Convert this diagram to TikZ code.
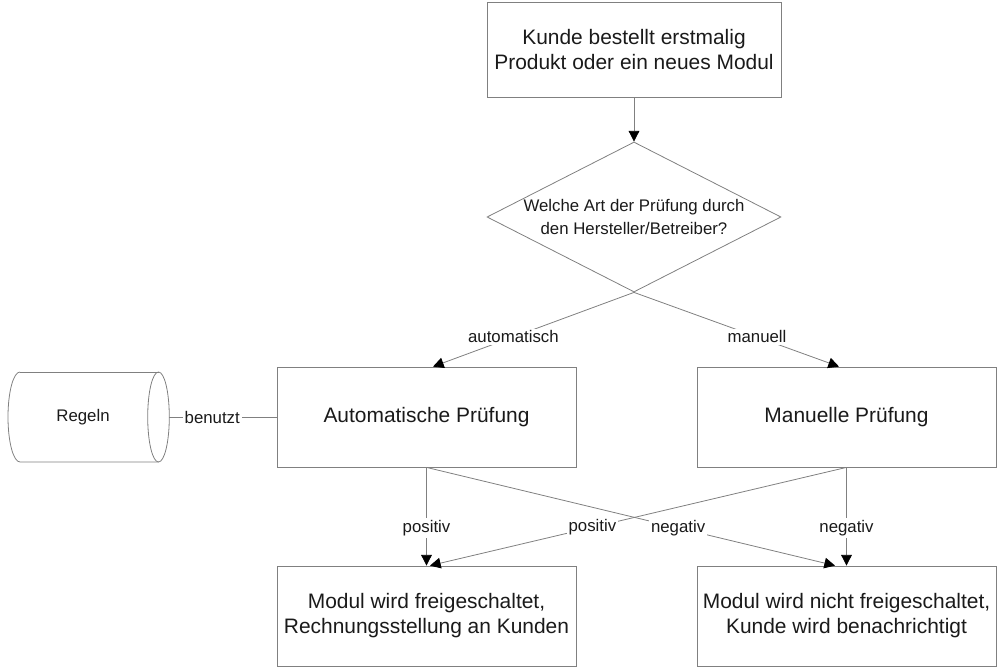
\documentclass[tikz,border=0pt]{standalone}
\usepackage{fontspec}
\setmainfont{Liberation Sans}
\usetikzlibrary{arrows.meta,shapes.geometric,calc}
\definecolor{linegray}{HTML}{808080}
\definecolor{txt}{HTML}{1A1A1A}
\begin{document}
\begin{tikzpicture}[x=0.75pt,y=-0.75pt,
  conn/.style={draw=linegray,line width=0.6pt},
  arr/.style={conn,-{Triangle[length=8pt,width=8pt,color=black]}},
  box/.style={draw=linegray,line width=0.6pt,rectangle,inner sep=2pt,minimum width=224.25pt,minimum height=75pt,align=center,text=txt,font=\fontsize{15.7pt}{18.8pt}\selectfont},
  lbl/.style={fill=white,inner sep=1.5pt,text=txt,font=\fontsize{12.6pt}{15pt}\selectfont},
  qtext/.style={align=center,text=txt,font=\fontsize{12.6pt}{17.25pt}\selectfont}]
\useasboundingbox (0,0) rectangle (1000,670);
% nodes
\node[box,minimum width=220.5pt,minimum height=71.25pt] (start) at (634,49.5) {Kunde bestellt erstmalig\\Produkt oder ein neues Modul};
\node[draw=linegray,line width=0.6pt,diamond,minimum width=220.5pt,minimum height=112.5pt,inner sep=0pt,
      label={[qtext]center:Welche Art der Prüfung durch\\den Hersteller/Betreiber?}] (q) at (634,217) {};
\node[box] (auto) at (426.5,417) {Automatische Prüfung};
\node[box] (man) at (846.5,417) {Manuelle Prüfung};
\node[box] (ok) at (426.5,616) {Modul wird freigeschaltet,\\Rechnungsstellung an Kunden};
\node[box] (nok) at (846.5,616) {Modul wird nicht freigeschaltet,\\Kunde wird benachrichtigt};
% cylinder "Regeln"
\draw[conn] (20,372) arc[start angle=90,end angle=270,x radius=9pt,y radius=33.75pt] -- (158.5,462);
\draw[conn] (20,372) -- (158.5,372);
\draw[conn] (158.5,417) ellipse[x radius=8.1pt,y radius=33.75pt];
\node[text=txt,font=\fontsize{12.6pt}{15pt}\selectfont] (regeln) at (83,417) {Regeln};
\coordinate (regE) at (169.3,417);
% connectors
\draw[arr] (start.south) -- (q.north);
\draw[arr] (q.south) -- node[lbl,pos=0.6]{automatisch} ($(auto.north)+(6.5,0)$);
\draw[arr] (q.south) -- node[lbl,pos=0.6]{manuell} ($(man.north)+(-7.5,0)$);
\draw[conn] (regE) -- node[lbl,pos=0.4]{benutzt} (auto.west);
\draw[arr] (auto.south) -- node[lbl,pos=0.616]{positiv} (ok.north);
\draw[arr] (auto.south) -- node[lbl,pos=0.616]{negativ} ($(nok.north)+(-11.5,0)$);
\draw[arr] (man.south) -- node[lbl,pos=0.616]{negativ} (nok.north);
\draw[arr] (man.south) -- node[lbl,pos=0.61]{positiv} ($(ok.north)+(3.5,0)$);
\end{tikzpicture}
\end{document}
